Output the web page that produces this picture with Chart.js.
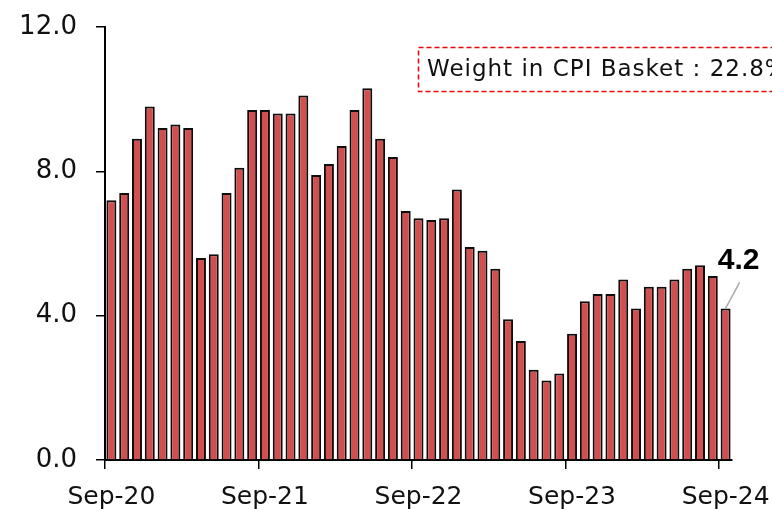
<!DOCTYPE html>
<html lang="en">
<head>
    <meta charset="UTF-8">
    <title>CPI Component YoY</title>
    <script src="https://cdn.jsdelivr.net/npm/chart.js"></script>
    <style>
        body {
            margin: 0;
            background: white;
        }
        #wrap {
            width: 772px;
            height: 509px;
        }
    </style>
</head>
<body>

    <div id="wrap">
        <canvas id="cpiChart" width="772" height="509"></canvas>
    </div>

    <script>
        const months = [
            "Sep-20", "Oct-20", "Nov-20", "Dec-20", "Jan-21", "Feb-21", "Mar-21", "Apr-21", "May-21", "Jun-21", "Jul-21", "Aug-21",
            "Sep-21", "Oct-21", "Nov-21", "Dec-21", "Jan-22", "Feb-22", "Mar-22", "Apr-22", "May-22", "Jun-22", "Jul-22", "Aug-22",
            "Sep-22", "Oct-22", "Nov-22", "Dec-22", "Jan-23", "Feb-23", "Mar-23", "Apr-23", "May-23", "Jun-23", "Jul-23", "Aug-23",
            "Sep-23", "Oct-23", "Nov-23", "Dec-23", "Jan-24", "Feb-24", "Mar-24", "Apr-24", "May-24", "Jun-24", "Jul-24", "Aug-24",
            "Sep-24"
        ];

        const inflation = [
            7.2, 7.4, 8.9, 9.8, 9.2, 9.3, 9.2, 5.6, 5.7, 7.4, 8.1, 9.7,
            9.7, 9.6, 9.6, 10.1, 7.9, 8.2, 8.7, 9.7, 10.3, 8.9, 8.4, 6.9,
            6.7, 6.65, 6.7, 7.5, 5.9, 5.8, 5.3, 3.9, 3.3, 2.5, 2.2, 2.4,
            3.5, 4.4, 4.6, 4.6, 5.0, 4.2, 4.8, 4.8, 5.0, 5.3, 5.4, 5.1,
            4.2
        ];

        const yTicks = [0, 4, 8, 12];
        const noteText = "Weight in CPI Basket : 22.8%";

        const fontFamily = "'DejaVu Sans', sans-serif";

        // dashed box + last value callout
        const extras = {
            id: 'extras',
            afterDatasetsDraw(chart) {
                const ctx = chart.ctx;
                const area = chart.chartArea;

                ctx.save();
                ctx.strokeStyle = '#f00000';
                ctx.lineWidth = 1.5;
                ctx.setLineDash([5, 3]);
                ctx.strokeRect(area.left + 313.5, area.top + 20.5, 420, 44);
                ctx.setLineDash([]);
                ctx.fillStyle = '#111';
                ctx.font = "23px " + fontFamily;
                ctx.letterSpacing = '1px';
                ctx.textBaseline = 'middle';
                ctx.textAlign = 'left';
                ctx.fillText(noteText, area.left + 322, area.top + 43);
                ctx.letterSpacing = '0px';

                const bars = chart.getDatasetMeta(0).data;
                const last = bars[bars.length - 1];
                ctx.strokeStyle = '#aaaaaa';
                ctx.lineWidth = 1.5;
                ctx.beginPath();
                ctx.moveTo(last.x, last.y);
                ctx.lineTo(last.x + 14, last.y - 26);
                ctx.stroke();

                ctx.fillStyle = '#000';
                ctx.font = "bold 30px 'Liberation Sans', sans-serif";
                ctx.textAlign = 'center';
                ctx.fillText(inflation[inflation.length - 1].toFixed(1), last.x + 13, last.y - 48);
                ctx.restore();
            }
        };

        new Chart(document.getElementById('cpiChart'), {
            type: 'bar',
            data: {
                labels: months,
                datasets: [{
                    data: inflation,
                    backgroundColor: '#d14f4f',
                    borderColor: '#0d0d0d',
                    borderWidth: 2,
                    barPercentage: 0.78,
                    categoryPercentage: 1.0
                }]
            },
            options: {
                responsive: false,
                animation: false,
                devicePixelRatio: 1,
                layout: {
                    padding: { top: 27, right: 40, left: 0, bottom: 0 }
                },
                plugins: {
                    legend: { display: false },
                    tooltip: { enabled: false }
                },
                scales: {
                    x: {
                        offset: true,
                        grid: {
                            offset: true,
                            drawOnChartArea: false,
                            tickLength: 9,
                            lineWidth: 1.5,
                            color: (c) => c.index % 12 === 0 ? '#000' : 'rgba(0,0,0,0)',
                            tickColor: (c) => c.index % 12 === 0 ? '#000' : 'rgba(0,0,0,0)'
                        },
                        border: { color: '#000', width: 2 },
                        ticks: {
                            autoSkip: false,
                            maxRotation: 0,
                            padding: 13,
                            color: '#111',
                            font: { family: fontFamily, size: 25 },
                            callback: function (val, i) {
                                return i % 12 === 0 ? months[i] : '';
                            }
                        },
                        afterFit(scale) {
                            scale.height = 49;
                            scale.paddingLeft = 0;
                            scale.paddingRight = 0;
                        }
                    },
                    y: {
                        min: 0,
                        max: 12,
                        grid: {
                            drawOnChartArea: false,
                            tickLength: 9,
                            lineWidth: 1.5,
                            color: '#000',
                            tickColor: '#000'
                        },
                        border: { color: '#000', width: 2 },
                        afterBuildTicks(scale) {
                            scale.ticks = yTicks.map(v => ({ value: v }));
                        },
                        ticks: {
                            padding: 19,
                            color: '#111',
                            font: { family: fontFamily, size: 26 },
                            callback: (v) => Number(v).toFixed(1)
                        },
                        afterFit(scale) {
                            scale.width = 105;
                            scale.paddingTop = 0;
                            scale.paddingBottom = 0;
                        }
                    }
                }
            },
            plugins: [extras]
        });
    </script>

</body>
</html>
